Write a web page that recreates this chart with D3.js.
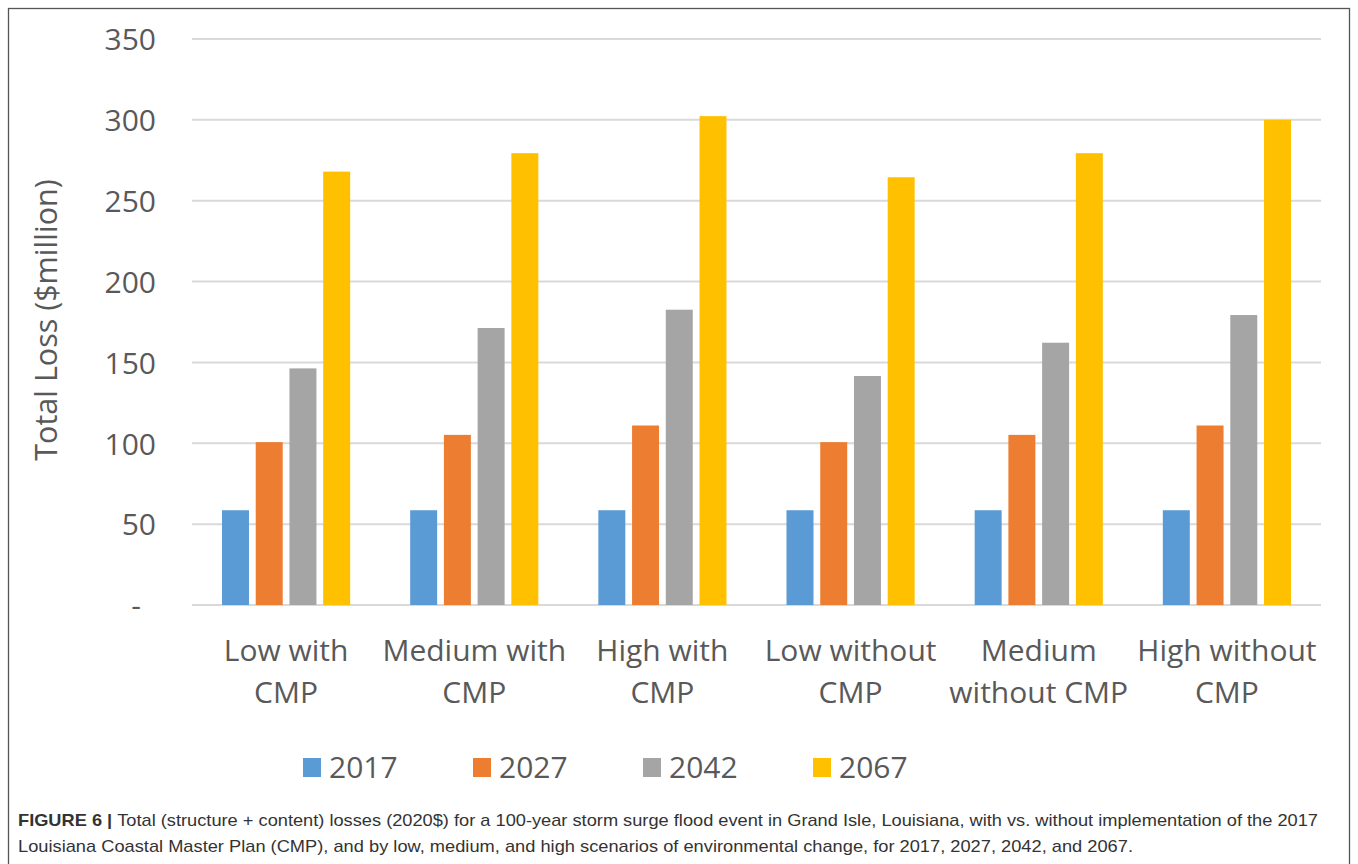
<!DOCTYPE html>
<html>
<head>
<meta charset="utf-8">
<script src="https://cdn.jsdelivr.net/npm/d3@7"></script>
<style>
body{margin:0;background:#fff;}
svg{display:block;}
.tick text{font-family:"Open Sans",sans-serif;}
</style>
</head>
<body>
<svg id="chart" width="1358" height="864"></svg>
<script>
// categories and series
var categories=[["Low with","CMP"],["Medium with","CMP"],["High with","CMP"],["Low without","CMP"],["Medium","without CMP"],["High without","CMP"]];
var years=["2017","2027","2042","2067"];
var colors=["#5b9bd5","#ed7d31","#a5a5a5","#ffc000"];
var v2017=[58.6,58.6,58.6,58.6,58.6,58.6];
var v2027=[100.7,105.2,111,100.7,105.2,111];
var v2042=[146.3,171.3,182.6,141.6,162.2,179.3];
var v2067=[268,279.4,302.3,264.5,279.4,300];
var yTicks=[0,50,100,150,200,250,300,350];

var series=[v2017,v2027,v2042,v2067];
var svg=d3.select("#chart");
var space={left:192,right:1321,top:39,bottom:605};

// outer frame
svg.append("rect").attr("x",8.5).attr("y",8.5).attr("width",1341).attr("height",860)
    .attr("fill","none").attr("stroke","#555").attr("stroke-width",1.3);

var x0=d3.scaleBand().domain(d3.range(categories.length)).range([space.left,space.right]).padding(0);
var x1=d3.scaleBand().domain(years).range([30,x0.bandwidth()-30]).paddingInner(0.2);
var y=d3.scaleLinear().domain([0,350]).range([space.bottom,space.top]);

// gridlines
svg.append("g").selectAll("line").data(yTicks).enter().append("line")
    .attr("x1",space.left).attr("x2",space.right)
    .attr("y1",function(d){return y(d)}).attr("y2",function(d){return y(d)})
    .attr("stroke","#d9d9d9").attr("stroke-width",2);

// y axis labels
var yAxis=d3.axisLeft(y).tickValues(yTicks).tickSize(0).tickPadding(0)
    .tickFormat(function(d){return d==0?"-":d});
var yg=svg.append("g").attr("transform","translate(156,0)").call(yAxis);
yg.select(".domain").remove();
yg.selectAll("text").attr("fill","#595959").style("font-size","30px").attr("dy","0.36em");
yg.selectAll(".tick").filter(function(d){return d==0}).select("text").attr("dx","-15");

svg.append("text").text("Total Loss ($million)")
    .attr("transform","translate(57,320) rotate(-90)")
    .attr("text-anchor","middle").attr("fill","#595959")
    .style("font-family","Open Sans, sans-serif").style("font-size","30.5px");

// bars
var groups=svg.append("g").selectAll("g").data(categories).enter().append("g")
    .attr("transform",function(d,i){return "translate("+x0(i)+",0)"});
groups.selectAll("rect").data(function(d,i){
        return years.map(function(yr,k){return {yr:yr,k:k,v:series[k][i]}})
    }).enter().append("rect")
    .attr("x",function(d){return x1(d.yr)})
    .attr("width",x1.bandwidth())
    .attr("y",function(d){return y(d.v)})
    .attr("height",function(d){return y(0)-y(d.v)})
    .attr("fill",function(d){return colors[d.k]});

// category labels
var xl=svg.append("g").selectAll("text").data(categories).enter().append("text")
    .attr("x",function(d,i){return x0(i)+x0.bandwidth()/2})
    .attr("y",661)
    .attr("text-anchor","middle").attr("fill","#595959")
    .style("font-family","Open Sans, sans-serif").style("font-size","30px");
xl.selectAll("tspan").data(function(d){return d}).enter().append("tspan")
    .attr("x",function(){return d3.select(this.parentNode).attr("x")})
    .attr("dy",function(d,i){return i==0?0:42})
    .text(function(d){return d});

// legend
var leg=svg.append("g").selectAll("g").data(years).enter().append("g")
    .attr("transform",function(d,i){return "translate("+(303+i*170)+",767)"});
leg.append("rect").attr("x",0).attr("y",-9).attr("width",18).attr("height",19)
    .attr("fill",function(d,i){return colors[i]});
leg.append("text").text(function(d){return d}).attr("x",26).attr("y",11)
    .attr("fill","#595959").style("font-family","Open Sans, sans-serif").style("font-size","30px");

// caption
var cap=svg.append("g").style("font-family","Liberation Sans, Arial, sans-serif").style("font-size","17px").attr("fill","#333");
var c1=cap.append("text").attr("x",18).attr("y",826).attr("textLength",1300).attr("lengthAdjust","spacingAndGlyphs");
c1.append("tspan").style("font-weight","bold").text("FIGURE 6 | ");
c1.append("tspan").text("Total (structure + content) losses (2020$) for a 100-year storm surge flood event in Grand Isle, Louisiana, with vs. without implementation of the 2017");
cap.append("text").attr("x",18).attr("y",852).attr("textLength",1115).attr("lengthAdjust","spacingAndGlyphs")
    .text("Louisiana Coastal Master Plan (CMP), and by low, medium, and high scenarios of environmental change, for 2017, 2027, 2042, and 2067.");
</script>
</body>
</html>
